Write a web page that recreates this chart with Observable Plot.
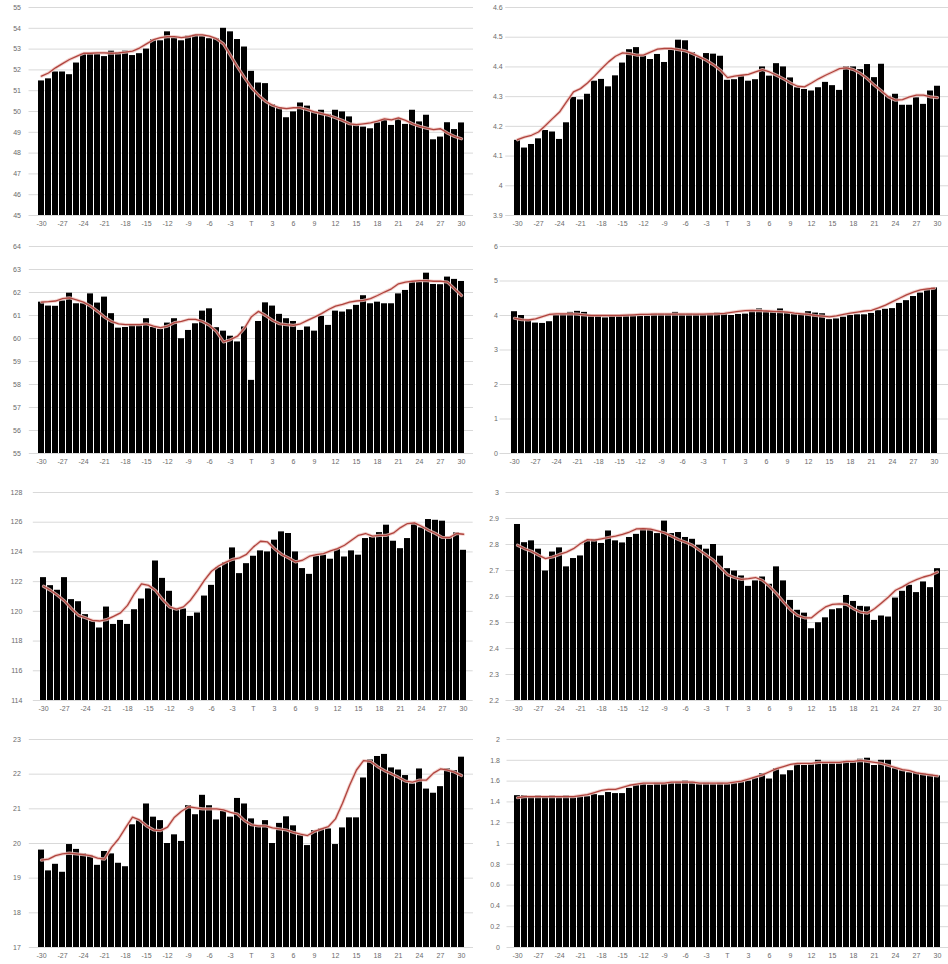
<!DOCTYPE html>
<html><head><meta charset="utf-8">
<script src="https://cdn.jsdelivr.net/npm/d3@7"></script>
<script src="https://cdn.jsdelivr.net/npm/@observablehq/plot@0.6"></script>
<style>
html,body{margin:0;padding:0;background:#fff;overflow:hidden;}
#wrap{position:relative;width:948px;height:964px;overflow:hidden;background:#fff;}
.panel{position:absolute;}
</style></head><body><div id="wrap"></div>
<script>
// ---- categories (days relative to T) ----
const days = [-30,-29,-28,-27,-26,-25,-24,-23,-22,-21,-20,-19,-18,-17,-16,-15,-14,-13,-12,-11,-10,-9,-8,-7,-6,-5,-4,-3,-2,-1,0,1,2,3,4,5,6,7,8,9,10,11,12,13,14,15,16,17,18,19,20,21,22,23,24,25,26,27,28,29,30];
const xTickValues = [-30,-27,-24,-21,-18,-15,-12,-9,-6,-3,0,3,6,9,12,15,18,21,24,27,30];
const xTickLabels = ["-30","-27","-24","-21","-18","-15","-12","-9","-6","-3","T","3","6","9","12","15","18","21","24","27","30"];

// ---- panel 1 (top left) ----
const p1Ticks = [45,46,47,48,49,50,51,52,53,54,55];
const p1Bars = [51.47,51.57,51.9,51.9,51.77,52.33,52.75,52.75,52.75,52.64,52.9,52.83,52.9,52.69,52.78,53.0,53.45,53.4,53.83,53.54,53.4,53.62,53.67,53.6,53.5,53.5,54.0,53.83,53.46,53.1,
  51.93,51.37,51.34,50.33,50.18,49.7,49.98,50.41,50.26,49.98,50.06,49.86,50.06,49.98,49.74,49.38,49.25,49.17,49.45,49.57,49.33,49.65,49.38,50.06,49.5,49.82,48.64,48.77,49.46,49.13,49.45];
const p1Line = [51.7,51.85,52.1,52.3,52.5,52.65,52.8,52.8,52.82,52.82,52.8,52.82,52.85,52.9,53.05,53.25,53.45,53.55,53.6,53.6,53.55,53.6,53.68,53.68,53.62,53.5,53.25,52.7,52.14,51.63,
  51.15,50.78,50.49,50.3,50.18,50.14,50.18,50.18,50.09,49.98,49.9,49.82,49.7,49.57,49.41,49.37,49.41,49.45,49.54,49.65,49.6,49.69,49.57,49.41,49.29,49.2,49.13,49.17,48.96,48.8,48.69];

// ---- panel 2 (top right) ----
const p2Ticks = [3.9,4,4.1,4.2,4.3,4.4,4.5,4.6];
const p2Bars = [4.153,4.127,4.139,4.158,4.186,4.181,4.156,4.212,4.297,4.289,4.308,4.352,4.358,4.333,4.37,4.413,4.458,4.465,4.436,4.425,4.442,4.415,4.456,4.49,4.488,4.448,4.431,4.445,4.443,4.436,
  4.355,4.357,4.369,4.352,4.357,4.4,4.369,4.411,4.4,4.363,4.33,4.324,4.319,4.33,4.348,4.337,4.321,4.4,4.4,4.391,4.408,4.364,4.409,4.301,4.308,4.271,4.271,4.296,4.274,4.319,4.335];
const p2Line = [4.155,4.164,4.17,4.181,4.203,4.226,4.248,4.282,4.316,4.327,4.346,4.369,4.394,4.417,4.436,4.447,4.445,4.44,4.44,4.45,4.46,4.462,4.462,4.458,4.454,4.445,4.434,4.422,4.407,4.389,
  4.364,4.369,4.372,4.375,4.383,4.391,4.383,4.372,4.36,4.346,4.335,4.333,4.346,4.36,4.372,4.383,4.394,4.397,4.391,4.378,4.36,4.338,4.319,4.299,4.288,4.29,4.299,4.305,4.305,4.299,4.297];

// ---- panel 3 (second row left) ----
const p3Ticks = [55,56,57,58,59,60,61,62,63,64];
const p3Bars = [61.58,61.41,61.4,61.63,61.97,61.51,61.51,61.94,61.54,61.8,61.08,60.45,60.48,60.6,60.6,60.86,60.48,60.4,60.67,60.86,59.99,60.35,60.64,61.19,61.29,60.47,60.32,60.1,59.85,60.5,
  58.18,60.74,61.55,61.41,61.05,60.86,60.74,60.35,60.5,60.32,60.96,60.57,61.19,61.15,61.25,61.44,61.86,61.51,61.58,61.51,61.51,61.94,62.09,62.45,62.45,62.84,62.35,62.34,62.67,62.57,62.48];
const p3Line = [61.58,61.6,61.63,61.73,61.77,61.68,61.58,61.41,61.18,60.93,60.74,60.64,60.6,60.6,60.6,60.64,60.54,60.47,60.54,60.69,60.74,60.83,60.83,60.74,60.57,60.3,59.85,59.95,60.1,60.45,
  60.95,61.18,61.0,60.79,60.64,60.6,60.57,60.64,60.79,60.93,61.08,61.26,61.41,61.48,61.58,61.63,61.66,61.73,61.87,62.02,62.16,62.38,62.45,62.49,62.52,62.52,62.49,62.49,62.45,62.16,61.87];

// ---- panel 4 (second row right) ----
const p4Ticks = [0,1,2,3,4,5,6];
const p4Bars = [4.11,4.0,3.87,3.78,3.77,3.82,4.0,4.03,4.09,4.12,4.09,3.98,4.0,3.93,4.0,4.0,4.0,4.0,3.98,3.98,4.04,4.04,4.04,4.09,4.04,4.04,4.03,4.03,4.04,4.07,
  4.04,4.0,4.03,4.04,4.14,4.19,4.11,4.11,4.19,4.09,4.03,4.04,4.11,4.07,4.05,3.88,3.9,3.95,4.0,4.02,4.02,4.06,4.14,4.18,4.2,4.35,4.43,4.55,4.65,4.75,4.8];
const p4Line = [3.92,3.88,3.87,3.9,3.97,4.03,4.05,4.05,4.05,4.04,4.02,4.0,4.0,4.0,4.0,4.0,4.01,4.02,4.03,4.03,4.04,4.04,4.04,4.04,4.04,4.04,4.04,4.04,4.05,4.05,
  4.06,4.09,4.12,4.14,4.15,4.14,4.13,4.12,4.11,4.1,4.07,4.05,4.03,4.0,3.98,3.96,3.99,4.03,4.07,4.1,4.13,4.15,4.22,4.3,4.4,4.5,4.6,4.68,4.74,4.77,4.79];

// ---- panel 5 (third row left) ----
const p5Ticks = [114,116,118,120,122,124,126,128];
const p5Bars = [122.27,121.73,121.42,122.27,120.79,120.65,119.78,119.35,118.88,120.29,119.12,119.39,119.12,120.11,120.83,121.51,123.39,122.22,121.35,120.16,120.16,119.66,119.89,121.03,121.75,122.94,123.28,124.27,122.54,123.21,
  123.71,124.07,124.0,124.79,125.35,125.24,124.0,122.88,122.49,123.71,123.78,123.51,124.16,123.66,124.07,123.78,124.9,124.97,125.3,125.8,124.72,124.22,124.9,125.91,125.62,126.18,126.13,126.07,124.97,125.28,124.11];
const p5Line = [121.69,121.42,121.08,120.7,120.18,119.73,119.57,119.39,119.35,119.44,119.66,119.9,120.4,121.2,121.85,121.75,121.4,120.8,120.3,120.15,120.3,120.75,121.4,122.1,122.7,123.05,123.3,123.5,123.6,123.84,
  124.34,124.72,124.67,124.22,123.84,123.6,123.33,123.44,123.71,123.82,123.89,124.07,124.22,124.45,124.79,125.12,125.24,125.06,125.12,125.12,125.28,125.64,125.91,125.96,125.73,125.46,125.24,124.97,124.97,125.24,125.19];

// ---- panel 6 (third row right) ----
const p6Ticks = [2.2,2.3,2.4,2.5,2.6,2.7,2.8,2.9,3];
const p6Bars = [2.877,2.807,2.814,2.782,2.698,2.771,2.787,2.714,2.746,2.756,2.814,2.819,2.804,2.852,2.814,2.806,2.827,2.839,2.859,2.857,2.842,2.89,2.842,2.846,2.827,2.82,2.797,2.782,2.8,2.755,
  2.707,2.698,2.679,2.639,2.66,2.675,2.647,2.714,2.66,2.585,2.547,2.536,2.476,2.499,2.518,2.549,2.553,2.604,2.581,2.562,2.56,2.508,2.525,2.521,2.594,2.62,2.643,2.615,2.656,2.634,2.707];
const p6Line = [2.797,2.784,2.774,2.759,2.746,2.752,2.762,2.771,2.784,2.804,2.819,2.817,2.822,2.827,2.832,2.839,2.848,2.86,2.861,2.859,2.852,2.845,2.832,2.819,2.809,2.797,2.778,2.759,2.739,2.711,
  2.684,2.673,2.666,2.669,2.673,2.662,2.639,2.611,2.579,2.549,2.527,2.518,2.518,2.54,2.56,2.57,2.572,2.57,2.553,2.54,2.536,2.553,2.575,2.598,2.624,2.637,2.653,2.665,2.675,2.682,2.694];

// ---- panel 7 (bottom left) ----
const p7Ticks = [17,18,19,20,21,22,23];
const p7Bars = [19.81,19.21,19.4,19.17,19.97,19.83,19.7,19.65,19.37,19.77,19.7,19.43,19.33,20.54,20.66,21.14,20.76,20.66,20.0,20.25,20.06,21.09,20.83,21.39,21.09,20.68,20.93,20.76,21.3,21.14,
  20.71,20.51,20.66,20.0,20.58,20.77,20.51,20.23,19.94,20.37,20.42,20.42,19.97,20.45,20.74,20.74,21.89,22.41,22.51,22.57,22.18,22.12,21.96,21.72,22.15,21.57,21.45,21.64,22.15,22.1,22.49];
const p7Line = [19.52,19.55,19.65,19.7,19.72,19.7,19.68,19.65,19.58,19.55,19.89,20.13,20.45,20.76,20.68,20.51,20.39,20.37,20.47,20.76,20.93,21.06,21.03,21.0,21.0,21.0,20.97,20.9,20.85,20.66,
  20.54,20.51,20.51,20.45,20.42,20.39,20.32,20.27,20.23,20.35,20.42,20.49,20.71,21.16,21.67,22.12,22.39,22.37,22.22,22.1,22.01,21.91,21.8,21.77,21.83,21.83,22.03,22.15,22.12,22.06,21.96];

// ---- panel 8 (bottom right) ----
const p8Ticks = [0,0.2,0.4,0.6,0.8,1,1.2,1.4,1.6,1.8,2];
const p8Bars = [1.46,1.46,1.45,1.46,1.45,1.46,1.44,1.46,1.44,1.45,1.45,1.47,1.46,1.49,1.48,1.48,1.53,1.56,1.57,1.56,1.58,1.57,1.58,1.59,1.6,1.59,1.57,1.58,1.57,1.58,
  1.57,1.58,1.59,1.6,1.63,1.67,1.62,1.72,1.66,1.7,1.76,1.75,1.76,1.8,1.77,1.78,1.77,1.79,1.78,1.81,1.82,1.75,1.8,1.8,1.72,1.7,1.68,1.68,1.67,1.66,1.65];
const p8Line = [1.44,1.45,1.45,1.45,1.45,1.45,1.45,1.45,1.45,1.46,1.47,1.49,1.51,1.52,1.52,1.54,1.56,1.57,1.58,1.58,1.58,1.58,1.59,1.59,1.59,1.59,1.58,1.58,1.58,1.58,
  1.58,1.59,1.6,1.62,1.64,1.66,1.69,1.72,1.74,1.76,1.77,1.77,1.77,1.78,1.78,1.78,1.78,1.79,1.79,1.8,1.79,1.78,1.77,1.75,1.73,1.71,1.7,1.68,1.67,1.66,1.65];

// ---- layout (positions only) ----
const layout = [
  {bars:p1Bars, line:p1Line, ticks:p1Ticks, left:0,   width:475, ml:28.5, mr:2,   top:7,   bottom:215, pad:8},
  {bars:p2Bars, line:p2Line, ticks:p2Ticks, left:475, width:473, ml:30.2, mr:0,   top:7,   bottom:215, pad:3},
  {bars:p3Bars, line:p3Line, ticks:p3Ticks, left:0,   width:475, ml:28.8, mr:2,   top:246, bottom:453, pad:8.5},
  {bars:p4Bars, line:p4Line, ticks:p4Ticks, left:475, width:473, ml:24.5, mr:0,   top:246, bottom:453, pad:2},
  {bars:p5Bars, line:p5Line, ticks:p5Ticks, left:0,   width:475, ml:32.8, mr:2.3, top:492, bottom:700, pad:11},
  {bars:p6Bars, line:p6Line, ticks:p6Ticks, left:475, width:473, ml:30.5, mr:0,   top:492, bottom:700, pad:7},
  {bars:p7Bars, line:p7Line, ticks:p7Ticks, left:0,   width:475, ml:28.8, mr:2,   top:739, bottom:947, pad:8.5},
  {bars:p8Bars, line:p8Line, ticks:p8Ticks, left:475, width:473, ml:31.5, mr:0,   top:739, bottom:947, pad:7}
];

const labelOf = new Map(xTickValues.map((v, i) => [v, xTickLabels[i]]));
const wrap = document.getElementById("wrap");
const MT = 6, MB = 18;

for (const p of layout) {
  const data = days.map((d, i) => ({day: d, v: p.bars[i], m: p.line[i]}));
  const ymin = p.ticks[0], ymax = p.ticks[p.ticks.length - 1];
  const chart = Plot.plot({
    width: p.width,
    height: (p.bottom - p.top) + MT + MB,
    marginLeft: p.ml, marginRight: p.mr, marginTop: MT, marginBottom: MB,
    style: {fontFamily: "'Liberation Sans', Arial, sans-serif", fontSize: "7px", color: "#6b6b6b", background: "transparent", overflow: "visible"},
    x: {type: "band", domain: days, paddingInner: 0.14, paddingOuter: 0.07, label: null,
        ticks: xTickValues, tickFormat: d => labelOf.has(d) ? labelOf.get(d) : "", tickSize: 0, tickPadding: 6},
    y: {domain: [ymin, ymax], label: null, ticks: p.ticks, tickSize: 0, tickPadding: p.pad,
        tickFormat: d => String(d)},
    marks: [
      Plot.ruleY(p.ticks, {stroke: "#d9d9d9", strokeWidth: 1}),
      Plot.barY(data, {x: "day", y1: ymin, y2: "v", fill: "#000"}),
      Plot.lineY(data, {x: "day", y: "m", stroke: "#efc4bf", strokeWidth: 3.2, strokeOpacity: 0.8}),
      Plot.lineY(data, {x: "day", y: "m", stroke: "#b0443e", strokeWidth: 1.3})
    ]
  });
  const div = document.createElement("div");
  div.className = "panel";
  div.style.left = p.left + "px";
  div.style.top = (p.top - MT) + "px";
  div.appendChild(chart);
  wrap.appendChild(div);
}
</script>
</body></html>
